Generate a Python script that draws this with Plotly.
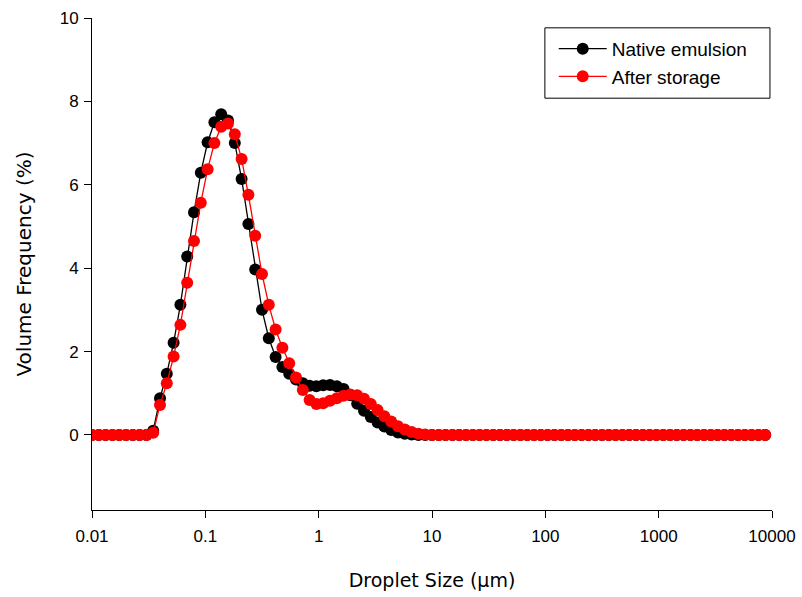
import numpy as np
import plotly.graph_objects as go

# Size classes (µm), log-spaced 0.01 ... ~8700
idx = np.arange(100)
sizes = 10 ** (-2 + 0.06 * idx)

native = [0]*9 + [
    0.10, 0.88, 1.47, 2.21, 3.12, 4.28, 5.34, 6.29, 7.02, 7.50,
    7.69, 7.54, 7.00, 6.14, 5.06, 3.97, 3.00, 2.32, 1.87, 1.63,
    1.47, 1.33, 1.24, 1.18, 1.17, 1.19, 1.20, 1.17, 1.10, 0.95,
    0.75, 0.58, 0.43, 0.30, 0.20, 0.12, 0.06, 0.03, 0.01,
]
native = native + [0] * (100 - len(native))

storage = [0]*9 + [
    0.05, 0.72, 1.24, 1.88, 2.64, 3.65, 4.65, 5.57, 6.37, 7.00,
    7.39, 7.47, 7.21, 6.62, 5.76, 4.78, 3.86, 3.12, 2.53, 2.09,
    1.72, 1.38, 1.08, 0.84, 0.74, 0.76, 0.82, 0.88, 0.94, 0.97,
    0.95, 0.87, 0.74, 0.60, 0.45, 0.32, 0.21, 0.13, 0.07, 0.03,
    0.01,
]
storage = storage + [0] * (100 - len(storage))

x_ticks = [0.01, 0.1, 1, 10, 100, 1000, 10000]
x_tick_labels = ["0.01", "0.1", "1", "10", "100", "1000", "10000"]

fig = go.Figure()
fig.add_trace(go.Scatter(
    x=sizes, y=native, mode="lines+markers", name="Native emulsion",
    line=dict(color="black", width=1.3),
    marker=dict(color="black", size=12, line=dict(width=0)),
))
fig.add_trace(go.Scatter(
    x=sizes, y=storage, mode="lines+markers", name="After storage",
    line=dict(color="#ff0000", width=1.3),
    marker=dict(color="#ff0000", size=12, line=dict(width=0)),
))

# legend frame
fig.add_shape(type="rect", xref="paper", yref="paper",
              x0=0.666, x1=0.997, y0=0.837, y1=0.980,
              line=dict(color="black", width=1), fillcolor="rgba(0,0,0,0)")

fig.update_layout(
    width=802, height=597,
    margin=dict(l=92, r=30, t=18, b=87),
    paper_bgcolor="white", plot_bgcolor="white",
    font=dict(family="Liberation Sans, Arial, sans-serif", size=17, color="black"),
    showlegend=True,
    legend=dict(
        x=0.679, y=0.976, xanchor="left", yanchor="top",
        borderwidth=0, bgcolor="rgba(0,0,0,0)",
        font=dict(size=19, family="Liberation Sans, Arial, sans-serif"),
        itemwidth=48, tracegroupgap=0,
    ),
    xaxis=dict(
        type="log", range=[-2, 4], automargin=False,
        tickvals=x_ticks, ticktext=x_tick_labels,
        ticks="outside", ticklen=7, tickwidth=1, tickcolor="black",
        ticklabelstandoff=4,
        showline=True, linecolor="black", linewidth=1,
        showgrid=False, zeroline=False, mirror=False,
        title=dict(text="Droplet Size (μm)", standoff=28,
                   font=dict(family="DejaVu Sans, sans-serif", size=19)),
    ),
    yaxis=dict(
        range=[-1.8, 10], tick0=0, dtick=2, automargin=False,
        ticks="outside", ticklen=7, tickwidth=1, tickcolor="black",
        ticklabelstandoff=2,
        showline=True, linecolor="black", linewidth=1,
        showgrid=False, zeroline=False, mirror=False,
        title=dict(text="Volume Frequency (%)", standoff=22,
                   font=dict(family="DejaVu Sans, sans-serif", size=20)),
    ),
)

fig.write_html("out.html")
